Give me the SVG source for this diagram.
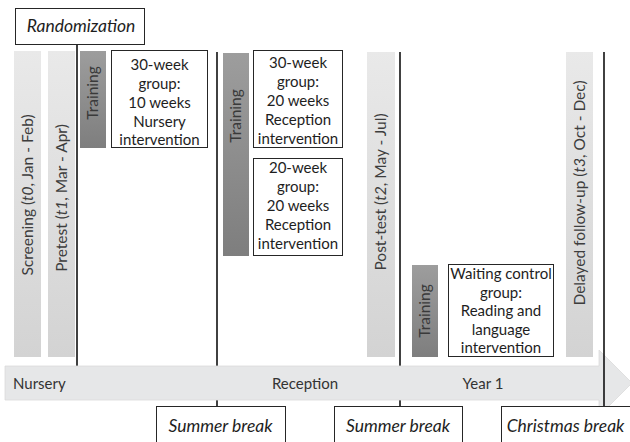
<svg xmlns="http://www.w3.org/2000/svg" width="630" height="442" viewBox="0 0 630 442">
<defs>
<linearGradient id="lightBar" x1="0" y1="0" x2="0" y2="1">
<stop offset="0" stop-color="#e9e9e9"/>
<stop offset="1" stop-color="#d3d3d3"/>
</linearGradient>
<linearGradient id="darkBar" x1="0" y1="0" x2="0" y2="1">
<stop offset="0" stop-color="#9d9d9d"/>
<stop offset="1" stop-color="#7e7e7e"/>
</linearGradient>
</defs>
<style>
text{font-family:Lato,"Open Sans",sans-serif;}
.bar{fill:url(#lightBar);}
.tbar{fill:url(#darkBar);}
.box{fill:#fff;stroke:#262626;stroke-width:1;}
.vt{font-size:15.5px;fill:#3d3d3d;text-anchor:middle;}
.tt{font-size:15.5px;fill:#3a3a3a;text-anchor:middle;}
.bt{font-size:15px;fill:#1e1e1e;text-anchor:middle;}
.it{font-size:17.5px;fill:#1e1e1e;text-anchor:middle;font-style:italic;}
.band{font-size:15px;fill:#333;}
.line{stroke:#111;stroke-width:1.6;fill:none;}
</style>

<g id="screening">
<rect class="bar" x="14" y="51" width="27" height="306"/>
<text class="vt" transform="translate(33,195) rotate(-90)">Screening  (<tspan font-style="italic">t0</tspan>, Jan - Feb)</text>
</g>
<g id="pretest">
<rect class="bar" x="48" y="51" width="27" height="306"/>
<text class="vt" transform="translate(67,198) rotate(-90)">Pretest (<tspan font-style="italic">t1</tspan>, Mar - Apr)</text>
</g>
<g id="posttest">
<rect class="bar" x="367" y="52" width="28" height="305"/>
<text class="vt" transform="translate(386,192) rotate(-90)">Post-test (<tspan font-style="italic">t2</tspan>, May - Jul)</text>
</g>
<g id="followup">
<rect class="bar" x="566" y="52" width="27" height="305"/>
<text class="vt" transform="translate(585,193) rotate(-90)">Delayed follow-up (<tspan font-style="italic">t3</tspan>, Oct - Dec)</text>
</g>

<g id="training1">
<rect class="tbar" x="80" y="51" width="26" height="97"/>
<text class="tt" transform="translate(98,93) rotate(-90)">Training</text>
</g>
<g id="training2">
<rect class="tbar" x="223" y="53" width="26" height="203"/>
<text class="tt" transform="translate(241,116) rotate(-90)">Training</text>
</g>
<g id="training3">
<rect class="tbar" x="412" y="265" width="26" height="92"/>
<text class="tt" transform="translate(430,311) rotate(-90)">Training</text>
</g>

<g id="nursery30">
<rect class="box" x="111.5" y="50.5" width="96" height="97"/>
<text class="bt" x="159.5" y="70">30-week</text>
<text class="bt" x="159.5" y="89">group:</text>
<text class="bt" x="159.5" y="108">10 weeks</text>
<text class="bt" x="159.5" y="127">Nursery</text>
<text class="bt" x="159.5" y="145">intervention</text>
</g>
<g id="reception30">
<rect class="box" x="253.5" y="50.5" width="89" height="97"/>
<text class="bt" x="298" y="68">30-week</text>
<text class="bt" x="298" y="87">group:</text>
<text class="bt" x="298" y="106">20 weeks</text>
<text class="bt" x="298" y="125">Reception</text>
<text class="bt" x="298" y="144">intervention</text>
</g>
<g id="reception20">
<rect class="box" x="253.5" y="158.5" width="89" height="97"/>
<text class="bt" x="298" y="173">20-week</text>
<text class="bt" x="298" y="192">group:</text>
<text class="bt" x="298" y="211">20 weeks</text>
<text class="bt" x="298" y="230">Reception</text>
<text class="bt" x="298" y="249">intervention</text>
</g>
<g id="control">
<rect class="box" x="448.5" y="264.5" width="105" height="92"/>
<text class="bt" x="501" y="279">Waiting control</text>
<text class="bt" x="501" y="297.5">group:</text>
<text class="bt" x="501" y="316">Reading and</text>
<text class="bt" x="501" y="334.5">language</text>
<text class="bt" x="501" y="353">intervention</text>
</g>

<g id="randomization">
<rect class="box" x="15.5" y="8.5" width="129" height="36"/>
<text class="it" x="81" y="32">Randomization</text>
</g>

<g id="connectors">
<line class="line" x1="77" y1="45" x2="77" y2="366"/>
<line class="line" x1="217" y1="52" x2="217" y2="406"/>
<line class="line" x1="400" y1="52" x2="400" y2="406"/>
</g>

<g id="timeline">
<path d="M5,366 H599 V350 L632,383 L599,416 V400 H5 Z" fill="#e6e7e8" stroke="#dadada" stroke-width="0.8"/>
<text class="band" x="13" y="389">Nursery</text>
<text class="band" x="305" y="389" text-anchor="middle">Reception</text>
<text class="band" x="483" y="389" text-anchor="middle">Year 1</text>
</g>

<g id="connectors-top">
<line class="line" x1="604" y1="52" x2="604" y2="406"/>
</g>

<g id="summer1">
<rect class="box" x="156.5" y="406.5" width="129" height="50"/>
<text class="it" x="220.5" y="432">Summer break</text>
</g>
<g id="summer2">
<rect class="box" x="334.5" y="406.5" width="128" height="50"/>
<text class="it" x="398" y="432">Summer break</text>
</g>
<g id="christmas">
<rect class="box" x="501.5" y="406.5" width="140" height="50"/>
<text class="it" x="565.5" y="432">Christmas break</text>
</g>
</svg>
